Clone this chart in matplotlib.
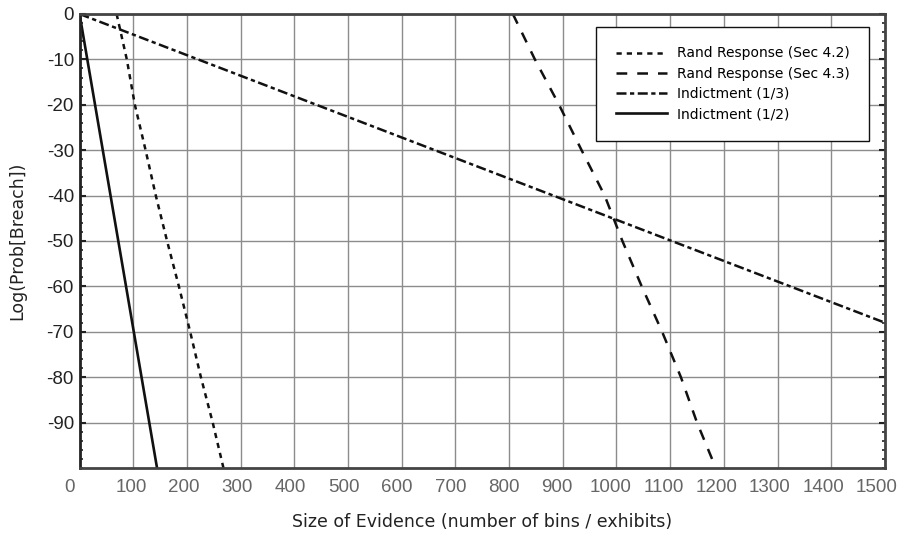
import matplotlib
matplotlib.use("Agg")
import matplotlib.pyplot as plt
import matplotlib.transforms as mtransforms
import numpy as np

plt.rcParams['axes.unicode_minus'] = False

# ---- data ----
# Rand Response (Sec 4.2): x value at each y level
rr42_y = [0, -10, -20, -30, -40, -50, -60, -70, -80, -90, -100]
rr42_x = [69, 88, 103, 123, 142, 163, 185, 206, 226, 248, 268]
# Rand Response (Sec 4.3)
rr43_y = [0, -10, -20, -30, -40, -50, -60, -70, -80, -90, -100]
rr43_x = [807, 848, 893, 935, 978, 1011, 1047, 1085, 1120, 1150, 1185]
# Indictment (1/3)
ind3_x = [0, 1500]
ind3_y = [0, -68]
# Indictment (1/2)
ind2_x = [0, 144.3]
ind2_y = [0, -100]

xticks = list(range(0, 1501, 100))
yticks = [0, -10, -20, -30, -40, -50, -60, -70, -80, -90]

fig = plt.figure(figsize=(9.03, 5.36), dpi=100)
ax = fig.add_axes([0.0881, 0.1269, 0.8919, 0.8470])

ax.plot(rr42_x, rr42_y, color='#111111', lw=1.8, linestyle=(0, (2.1, 2.0)),
        label='Rand Response (Sec 4.2)')
ax.plot(rr43_x, rr43_y, color='#111111', lw=1.8, linestyle=(0, (4.3, 4.0)),
        label='Rand Response (Sec 4.3)')
ax.plot(ind3_x, ind3_y, color='#111111', lw=1.8, linestyle=(0, (4.0, 1.4, 1.7, 1.4)),
        label='Indictment (1/3)')
ax.plot(ind2_x, ind2_y, color='#111111', lw=1.9, linestyle='-',
        label='Indictment (1/2)')

ax.set_xlim(0, 1500)
ax.set_ylim(-100, 0)
ax.set_xticks(xticks)
ax.set_yticks(yticks)
ax.set_yticks(np.arange(-100, 0.1, 2), minor=True)
ax.set_xticklabels([str(v) for v in xticks])
ax.set_yticklabels([str(v) for v in yticks])

ax.grid(True, which='major', color='#8c8c8c', lw=1.0)
ax.set_axisbelow(True)

for s in ax.spines.values():
    s.set_color('#444444')
    s.set_linewidth(2)
ax.spines['left'].set_color('#222222')

ax.tick_params(axis='x', which='both', length=0, pad=8, labelsize=13.5,
               labelcolor='#666666')
ax.tick_params(axis='y', which='major', direction='in', length=4, width=1.5,
               color='#222222', left=True, right=True, pad=4, labelsize=13.5,
               labelcolor='#222222')
ax.tick_params(axis='y', which='minor', direction='in', length=2.5, width=1.2,
               color='#222222', left=True, right=True)
for lab in ax.get_xticklabels() + ax.get_yticklabels():
    lab.set_family('Liberation Sans')

# x tick labels sit slightly left of their grid lines in the reference
for v, lab in zip(xticks, ax.get_xticklabels()):
    shift = -10.0 if v == 0 else -(2.0 + 6.5 * v / 1500.0)
    lab.set_transform(lab.get_transform() +
                      mtransforms.ScaledTranslation(shift / 100, 0, fig.dpi_scale_trans))

ax.set_xlabel('Size of Evidence (number of bins / exhibits)', fontsize=12.5,
              family='DejaVu Sans', color='#222222', labelpad=12)
ax.set_ylabel('Log(Prob[Breach])', fontsize=12.5, family='DejaVu Sans',
              color='#222222')
ax.yaxis.set_label_coords(-0.0666, 0.5)

leg = ax.legend(loc='upper right', bbox_to_anchor=(0.980, 0.9714),
                borderaxespad=0, fancybox=False, framealpha=1,
                edgecolor='#111111', prop={'family': 'DejaVu Sans', 'size': 10},
                handlelength=3.7, handletextpad=0.7, labelspacing=0.45,
                borderpad=1.4)
leg.get_frame().set_linewidth(1.0)

fig.savefig('out.png', dpi=100)
